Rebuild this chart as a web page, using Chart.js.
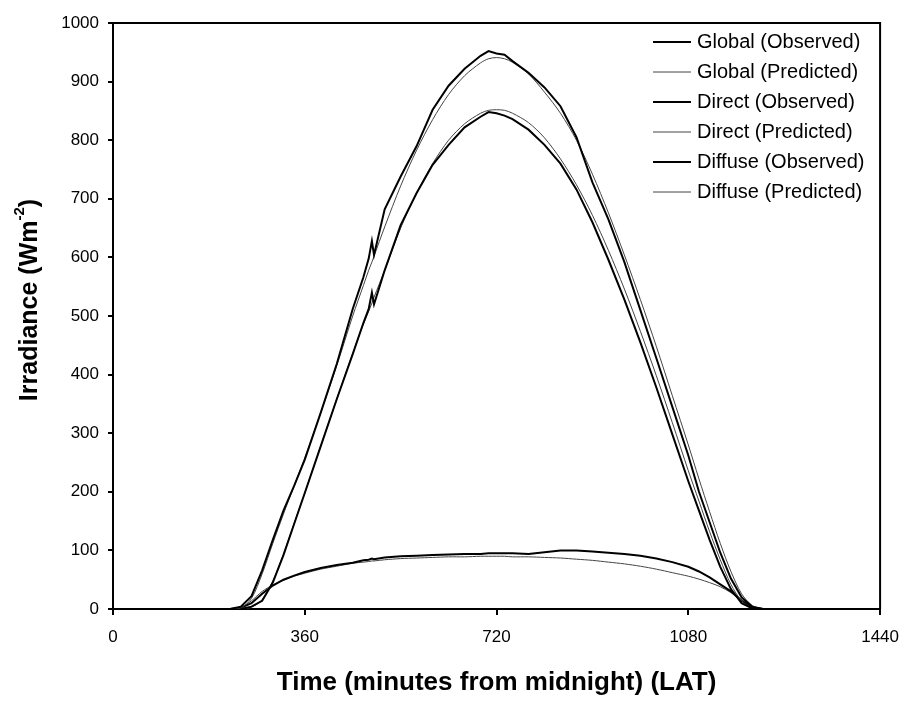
<!DOCTYPE html>
<html>
<head>
<meta charset="utf-8">
<script src="https://cdn.jsdelivr.net/npm/chart.js@4.4.1/dist/chart.umd.min.js"></script>
<style>
  html, body { margin: 0; padding: 0; background: #fff; }
  #wrap { width: 911px; height: 702px; }
</style>
</head>
<body>
<div id="wrap"><canvas id="irradianceChart" width="911" height="702"></canvas></div>
<script>
// minutes from midnight (LAT)
const minutes = [0, 180, 220, 240, 260, 280, 300, 320, 340, 360, 390, 420, 450, 470, 480, 486, 490, 510, 540, 570,
  600, 630, 660, 690, 705, 720, 735, 750, 780, 810, 840, 870, 900, 930, 960, 990, 1020, 1050, 1080, 1100,
  1120, 1140, 1160, 1180, 1200, 1220, 1260, 1440];

const globalObserved = [0, 0, 0, 4, 22, 66, 118, 168, 210, 255, 335, 418, 512, 566, 598, 628, 604, 682, 738, 790,
  852, 893, 922, 944, 952, 948, 946, 935, 915, 890, 858, 805, 728, 665, 592, 510, 428, 345, 262, 200,
  148, 96, 52, 20, 4, 0, 0, 0];
const globalPredicted = [0, 0, 0, 2, 18, 60, 112, 162, 210, 258, 335, 415, 500, 552, 578, 592, 602, 652, 722, 783,
  835, 878, 910, 932, 939, 941, 939, 933, 913, 882, 846, 800, 742, 676, 604, 528, 448, 364, 280, 222,
  166, 112, 64, 26, 6, 0, 0, 0];
const directObserved = [0, 0, 0, 0, 4, 14, 45, 92, 145, 198, 278, 358, 435, 488, 512, 540, 520, 578, 655, 710,
  758, 792, 822, 840, 848, 846, 842, 836, 818, 792, 760, 716, 660, 596, 528, 455, 378, 298, 218, 168,
  118, 72, 34, 10, 1, 0, 0, 0];
const directPredicted = [0, 0, 0, 0, 3, 16, 48, 94, 146, 198, 278, 358, 436, 486, 508, 522, 532, 578, 650, 710,
  760, 800, 828, 846, 851, 852, 851, 846, 830, 804, 768, 724, 672, 612, 546, 474, 398, 318, 236, 184,
  132, 84, 42, 14, 2, 0, 0, 0];
const diffuseObserved = [0, 0, 0, 2, 10, 26, 40, 50, 57, 63, 70, 75, 79, 83, 84, 86, 85, 88, 90, 91,
  92, 93, 94, 94, 95, 95, 95, 95, 94, 97, 100, 100, 98, 96, 94, 91, 86, 80, 72, 64,
  54, 42, 30, 14, 3, 0, 0, 0];
const diffusePredicted = [0, 0, 0, 3, 14, 30, 41, 49, 56, 61, 68, 73, 78, 80, 81, 82, 82, 84, 86, 87,
  88, 89, 89, 90, 90, 90, 90, 89, 89, 88, 87, 85, 83, 80, 77, 73, 68, 62, 56, 51,
  45, 38, 28, 16, 5, 0, 0, 0];

const xTicks = [0, 360, 720, 1080, 1440];
const yTicks = [0, 100, 200, 300, 400, 500, 600, 700, 800, 900, 1000];

const FONT = '"Liberation Sans", Arial, Helvetica, sans-serif';

function pts(ys) {
  return minutes.map((m, i) => ({ x: m, y: ys[i] }));
}

function series(label, ys, observed) {
  return {
    label: label,
    data: pts(ys),
    borderColor: observed ? '#000' : '#444',
    borderWidth: observed ? 2 : 1,
    pointRadius: 0,
    tension: observed ? 0 : 0.3,
    fill: false
  };
}

// plot frame, y title with superscript, and legend inside the plot
const decorations = {
  id: 'decorations',
  afterDraw(chart) {
    const ctx = chart.ctx;
    const a = chart.chartArea;
    ctx.save();
    ctx.strokeStyle = '#000';
    ctx.lineWidth = 2;
    ctx.beginPath();
    ctx.moveTo(a.left, a.top);
    ctx.lineTo(a.right, a.top);
    ctx.lineTo(a.right, a.bottom);
    ctx.stroke();

    // y axis title
    ctx.translate(30, 300);
    ctx.rotate(-Math.PI / 2);
    ctx.fillStyle = '#000';
    ctx.textBaseline = 'middle';
    const main = 'Irradiance (Wm';
    ctx.font = 'bold 25px ' + FONT;
    const w1 = ctx.measureText(main).width;
    ctx.font = 'bold 15px ' + FONT;
    const w2 = ctx.measureText('-2').width;
    ctx.font = 'bold 25px ' + FONT;
    const w3 = ctx.measureText(')').width;
    let x = -(w1 + w2 + w3) / 2;
    ctx.textAlign = 'left';
    ctx.fillText(main, x, 0);
    x += w1;
    ctx.font = 'bold 15px ' + FONT;
    ctx.fillText('-2', x, -10);
    x += w2;
    ctx.font = 'bold 25px ' + FONT;
    ctx.fillText(')', x, 0);
    ctx.restore();

    // legend
    ctx.save();
    ctx.font = '20px ' + FONT;
    ctx.textBaseline = 'middle';
    ctx.fillStyle = '#000';
    chart.data.datasets.forEach((ds, i) => {
      const y = 42 + i * 30;
      ctx.strokeStyle = ds.borderColor;
      ctx.lineWidth = ds.borderWidth;
      ctx.beginPath();
      ctx.moveTo(653, y);
      ctx.lineTo(691, y);
      ctx.stroke();
      ctx.fillText(ds.label, 697, y);
    });
    ctx.restore();
  }
};

const chart = new Chart(document.getElementById('irradianceChart').getContext('2d'), {
  type: 'line',
  data: {
    datasets: [
      series('Global (Observed)', globalObserved, true),
      series('Global (Predicted)', globalPredicted, false),
      series('Direct (Observed)', directObserved, true),
      series('Direct (Predicted)', directPredicted, false),
      series('Diffuse (Observed)', diffuseObserved, true),
      series('Diffuse (Predicted)', diffusePredicted, false)
    ]
  },
  options: {
    responsive: false,
    animation: false,
    layout: { padding: { top: 23, right: 26, left: 0, bottom: 0 } },
    plugins: {
      legend: { display: false },
      tooltip: { enabled: false }
    },
    scales: {
      x: {
        type: 'linear',
        min: 0,
        max: 1440,
        afterBuildTicks: s => { s.ticks = xTicks.map(v => ({ value: v })); },
        afterFit: s => { s.height = 93; },
        border: { display: true, color: '#000', width: 2 },
        grid: { drawOnChartArea: false, drawTicks: true, tickLength: 6, color: '#000', lineWidth: 2 },
        ticks: { color: '#000', font: { family: FONT, size: 17 }, padding: 12, maxRotation: 0, callback: v => String(v) },
        title: {
          display: true,
          text: 'Time (minutes from midnight) (LAT)',
          color: '#000',
          font: { family: FONT, size: 26, weight: 'bold' },
          padding: { top: 10, bottom: 4 }
        }
      },
      y: {
        min: 0,
        max: 1000,
        afterBuildTicks: s => { s.ticks = yTicks.map(v => ({ value: v })); },
        afterFit: s => { s.width = 113; },
        border: { display: true, color: '#000', width: 2 },
        grid: { drawOnChartArea: false, drawTicks: true, tickLength: 5, color: '#000', lineWidth: 2 },
        ticks: { color: '#000', font: { family: FONT, size: 17 }, padding: 9, callback: v => String(v) }
      }
    }
  },
  plugins: [decorations]
});
</script>
</body>
</html>
